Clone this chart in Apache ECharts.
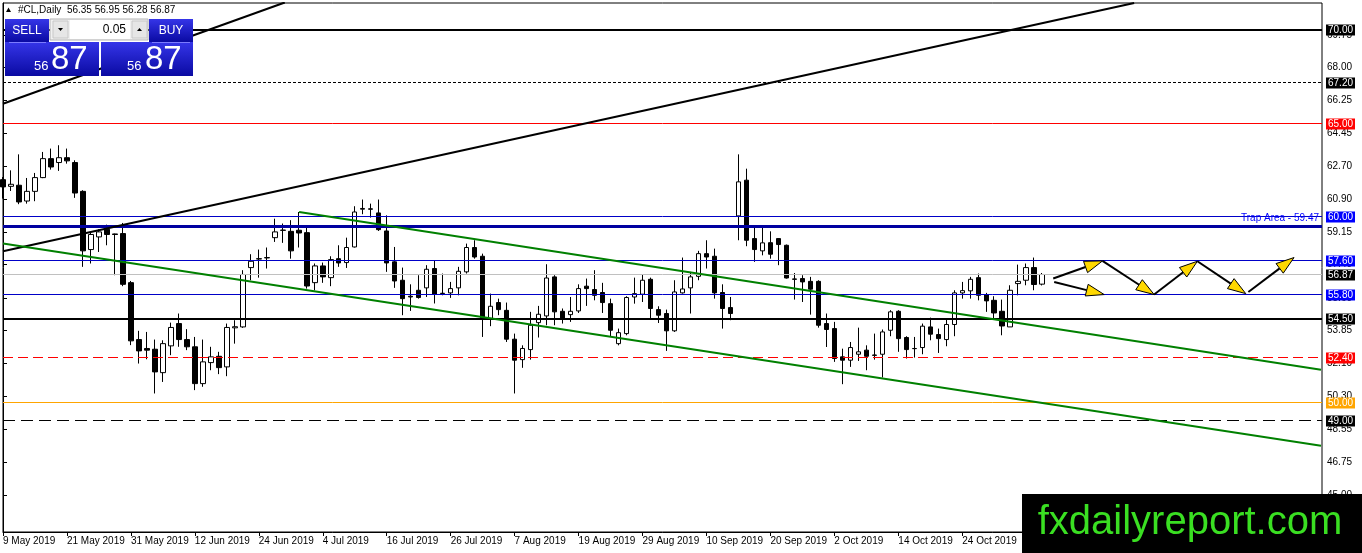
<!DOCTYPE html>
<html><head><meta charset="utf-8">
<script src="https://cdn.jsdelivr.net/npm/echarts@6.0.0/dist/echarts.min.js"></script>
<style>html,body{margin:0;padding:0;background:#fff;}#c{width:1362px;height:553px;}</style>
</head><body><div id="c"></div>
<script>
// ---- data ----
const categories = [
'9 May 2019','10 May 2019','13 May 2019','14 May 2019','15 May 2019','16 May 2019','17 May 2019','20 May 2019','21 May 2019','22 May 2019','23 May 2019','24 May 2019','27 May 2019','28 May 2019','29 May 2019','30 May 2019','31 May 2019',
'3 Jun 2019','4 Jun 2019','5 Jun 2019','6 Jun 2019','7 Jun 2019','10 Jun 2019','11 Jun 2019','12 Jun 2019','13 Jun 2019','14 Jun 2019','17 Jun 2019','18 Jun 2019','19 Jun 2019','20 Jun 2019','21 Jun 2019','24 Jun 2019','25 Jun 2019','26 Jun 2019','27 Jun 2019','28 Jun 2019',
'1 Jul 2019','2 Jul 2019','3 Jul 2019','4 Jul 2019','5 Jul 2019','8 Jul 2019','9 Jul 2019','10 Jul 2019','11 Jul 2019','12 Jul 2019','15 Jul 2019','16 Jul 2019','17 Jul 2019','18 Jul 2019','19 Jul 2019','22 Jul 2019','23 Jul 2019','24 Jul 2019','25 Jul 2019','26 Jul 2019','29 Jul 2019','30 Jul 2019','31 Jul 2019',
'1 Aug 2019','2 Aug 2019','5 Aug 2019','6 Aug 2019','7 Aug 2019','8 Aug 2019','9 Aug 2019','12 Aug 2019','13 Aug 2019','14 Aug 2019','15 Aug 2019','16 Aug 2019','19 Aug 2019','20 Aug 2019','21 Aug 2019','22 Aug 2019','23 Aug 2019','26 Aug 2019','27 Aug 2019','28 Aug 2019','29 Aug 2019','30 Aug 2019',
'2 Sep 2019','3 Sep 2019','4 Sep 2019','5 Sep 2019','6 Sep 2019','9 Sep 2019','10 Sep 2019','11 Sep 2019','12 Sep 2019','13 Sep 2019','16 Sep 2019','17 Sep 2019','18 Sep 2019','19 Sep 2019','20 Sep 2019','23 Sep 2019','24 Sep 2019','25 Sep 2019','26 Sep 2019','27 Sep 2019','30 Sep 2019',
'1 Oct 2019','2 Oct 2019','3 Oct 2019','4 Oct 2019','7 Oct 2019','8 Oct 2019','9 Oct 2019','10 Oct 2019','11 Oct 2019','14 Oct 2019','15 Oct 2019','16 Oct 2019','17 Oct 2019','18 Oct 2019','21 Oct 2019','22 Oct 2019','23 Oct 2019','24 Oct 2019','25 Oct 2019','28 Oct 2019','29 Oct 2019','30 Oct 2019','31 Oct 2019',
'1 Nov 2019','4 Nov 2019','5 Nov 2019','6 Nov 2019','7 Nov 2019'
];
const opens = [
61.97,61.61,61.67,60.82,61.34,62.08,63.10,62.89,63.15,62.89,
61.34,58.21,58.89,59.30,59.05,59.07,56.43,53.37,52.89,52.85,
51.59,53.03,54.23,53.37,52.98,51.00,52.13,52.47,51.90,54.00,
54.05,57.24,57.70,57.76,58.85,59.24,59.19,59.25,59.12,56.43,
57.33,56.70,57.72,57.51,58.35,60.38,60.40,60.18,59.21,57.55,
56.56,55.70,56.02,56.15,57.19,55.86,55.88,56.15,57.01,58.32,
57.85,54.50,55.36,54.94,53.39,52.29,52.83,54.28,54.64,56.74,
54.89,54.71,54.91,56.24,56.06,55.90,55.30,53.15,53.69,55.66,
55.81,56.61,54.98,54.77,53.84,55.88,56.15,56.77,57.99,57.85,
55.90,55.09,60.02,61.94,58.80,58.14,58.58,58.80,58.44,56.63,
56.65,56.50,56.50,54.23,53.96,52.44,52.26,52.58,52.80,52.54,
52.58,53.87,54.89,53.48,52.89,52.94,54.05,53.64,53.37,54.18,
55.88,55.99,56.70,55.79,55.48,54.89,54.05,56.38,56.56,57.24,56.35
];
const closes = [
61.58,61.72,60.77,61.34,62.08,63.10,62.65,63.15,62.98,61.25,
58.14,59.02,59.16,59.02,59.02,56.34,53.30,52.76,52.80,51.63,
53.15,54.02,53.37,52.98,51.00,52.17,52.44,51.86,54.02,54.06,
56.87,57.58,57.72,57.78,59.16,59.26,58.14,59.10,56.25,57.33,
56.74,57.67,57.49,58.32,60.23,60.42,60.38,59.28,57.49,56.52,
55.57,55.66,55.63,57.15,55.81,55.84,56.11,57.04,58.32,57.81,
54.50,55.16,54.98,53.39,52.26,52.89,54.14,54.73,56.68,54.86,
54.53,54.89,56.11,56.11,55.75,55.36,53.87,53.74,55.63,55.84,
56.56,55.04,54.68,53.84,55.93,56.09,56.74,57.99,57.81,55.88,
55.04,54.77,61.85,58.71,58.21,58.57,57.96,58.48,56.68,56.61,
56.47,56.08,54.14,53.91,52.35,52.26,52.94,52.71,52.47,52.52,
53.78,54.86,53.42,52.83,52.88,54.09,53.66,53.42,54.18,55.88,
56.00,56.61,55.75,55.45,54.80,54.10,56.02,56.50,57.24,56.33,56.87
];
const lows = [
60.95,61.36,60.65,60.68,60.81,62.05,62.51,62.44,62.83,60.99,
57.28,57.46,58.08,58.44,56.83,56.24,53.07,52.08,52.31,50.47,
51.09,52.53,52.98,52.80,50.65,50.83,51.72,51.51,51.40,53.15,
54.00,56.56,56.70,57.19,58.62,58.57,57.72,58.32,56.11,56.02,
56.42,56.24,57.28,57.22,58.32,60.11,59.93,59.21,57.01,56.15,
54.68,54.91,55.57,55.66,55.31,55.75,55.61,55.75,56.92,57.72,
53.51,54.09,54.68,53.24,50.47,51.85,52.29,53.48,54.14,54.14,
54.23,54.32,54.80,55.18,55.48,54.80,53.51,53.06,53.60,55.30,
55.39,54.50,54.26,52.76,53.78,55.84,54.77,56.56,57.19,55.57,
53.96,54.41,58.71,58.39,57.55,57.90,57.72,57.37,56.65,55.52,
55.39,54.71,54.01,52.97,52.17,50.97,51.90,52.22,51.72,52.29,
51.33,53.55,52.71,52.35,52.40,52.58,53.33,52.65,53.01,53.55,
55.57,55.57,55.48,54.86,54.44,53.60,54.05,55.75,56.29,56.02,56.28
];
const highs = [
62.11,62.47,63.33,62.06,62.33,63.46,63.64,63.82,63.64,63.01,
61.40,59.16,59.30,59.55,59.07,59.64,56.52,53.84,53.78,53.37,
53.33,54.28,54.77,53.93,53.51,53.37,52.98,52.71,54.23,54.41,
57.10,57.96,58.21,58.32,59.87,59.61,59.79,60.23,59.43,57.46,
57.51,57.85,58.44,58.85,60.54,60.90,60.68,60.90,60.05,58.35,
57.24,56.34,56.83,57.37,57.63,56.92,56.47,57.28,58.53,58.71,
57.99,55.84,55.57,55.36,53.69,53.06,54.86,55.18,57.42,56.83,
55.04,55.66,56.34,56.65,57.10,56.42,55.57,53.96,55.70,56.70,
56.86,56.70,55.16,54.98,56.56,57.78,57.01,58.14,58.71,58.26,
56.34,55.66,63.33,62.56,59.46,59.43,59.19,58.82,58.48,56.95,
56.83,56.74,56.56,54.77,54.32,52.88,53.24,54.01,53.06,53.69,
53.91,54.95,54.95,53.55,53.51,54.23,54.55,53.96,54.50,56.02,
56.47,56.74,56.92,55.88,55.70,55.52,56.29,57.40,57.46,57.78,56.95
];
const yTickLabels = [45.00, 46.75, 48.55, 50.30, 52.10, 53.85, 55.60, 57.40, 59.15, 60.90, 62.70, 64.45, 66.25, 68.00, 69.75];
const levelValues = [70.00, 67.20, 65.00, 60.00, 59.47, 57.60, 56.87, 55.80, 54.50, 52.40, 50.00, 49.00];
const trapLabel = 'Trap Area - 59.47';
// trend lines: [barIndex, price] endpoints
const blackRayShort = [[0, 66.05], [35.25, 71.50]];
const blackRayLong = [[0, 58.12], [141.5, 71.47]];
const greenUpper = [[37.04, 60.23], [164.875, 51.75]];
const greenLower = [[0, 58.54], [164.875, 47.66]];
// arrows: [fromIndex, fromPrice, toIndex, toPrice]
const arrowSegments = [
  [131.375, 56.65, 137.54, 57.60],
  [131.5, 56.47, 137.75, 55.79],
  [137.54, 57.60, 144.0, 55.79],
  [144.0, 55.79, 149.41, 57.58],
  [149.41, 57.58, 155.46, 55.84],
  [155.79, 55.93, 161.5, 57.78]
];
const headerText = '#CL,Daily  56.35 56.95 56.28 56.87';
const lotText = '0.05';
const bidBig = '87', bidSmall = '56', askBig = '87', askSmall = '56';
const logoText = 'fxdailyreport.com';

// ---- styles ----
const totalSlots = 166;
const FONT = 'Liberation Sans';
const levelColor = ['#000000','#000000','#ff0000','#0000c8','#0000a0','#0000c8','#c0c0c0','#0000c8','#000000','#ff0000','#ffa500','#000000'];
const levelBox   = ['#000000','#000000','#ff0000','#0000ff',null,     '#0000ff','#000000','#0000ff','#000000','#ff0000','#ffa500','#000000'];
const levelWidth = [2,1,1,1,3,1,1,1,2,1,1,1];
const levelDash  = [null,[3,2],null,null,null,null,null,null,null,[10,5],null,[12,6]];

const xData = categories.concat(new Array(totalSlots - categories.length).fill(''));
const candles = categories.map((_, i) => [opens[i], closes[i], lows[i], highs[i]]);
const levelRows = levelValues.map((v, i) => [i, v]);

function trend(data, color, width) {
  return {type: 'line', xAxisIndex: 1, yAxisIndex: 0, data: data, symbol: 'none', silent: true,
    lineStyle: {color: color, width: width}, z: 4, animation: false};
}

const blueGrad = {type: 'linear', x: 0, y: 0, x2: 0, y2: 1,
  colorStops: [{offset: 0, color: '#3535e8'}, {offset: 1, color: '#0a0aa2'}]};

const chart = echarts.init(document.getElementById('c'), null, {renderer: 'canvas'});
chart.setOption({
  animation: false,
  backgroundColor: '#fff',
  grid: {left: 3, right: 40, top: 3, bottom: 21, show: true, borderColor: '#000', borderWidth: 1, backgroundColor: '#fff'},
  xAxis: [
    {type: 'category', data: xData, boundaryGap: false,
      axisLine: {lineStyle: {color: '#000'}},
      axisTick: {interval: 7, length: 4, lineStyle: {color: '#000'}},
      axisLabel: {interval: 7, align: 'left', color: '#000', fontSize: 10, fontFamily: FONT, margin: 4},
      splitLine: {show: false}},
    {type: 'value', min: 0, max: totalSlots - 1, show: false}
  ],
  yAxis: {type: 'value', position: 'right', min: 43.02, max: 71.47, scale: true,
    splitLine: {show: false},
    axisLine: {show: true, lineStyle: {color: '#000'}},
    axisTick: {show: true, customValues: yTickLabels, length: 4, lineStyle: {color: '#000'}},
    axisLabel: {customValues: yTickLabels, formatter: v => Number(v).toFixed(2), color: '#000', fontSize: 10, fontFamily: FONT, margin: 5}
  },
  series: [
    {type: 'candlestick', data: candles, barWidth: 5, silent: true, z: 2,
      itemStyle: {color: '#ffffff', color0: '#000000', borderColor: '#000000', borderColor0: '#000000', borderWidth: 1}
    },
    {type: 'custom', xAxisIndex: 1, yAxisIndex: 0, data: levelRows, silent: true, z: 3, clip: false,
      encode: {x: 0, y: 1},
      renderItem: function (params, api) {
        const i = api.value(0), v = api.value(1);
        const cs = params.coordSys;
        const w = levelWidth[i];
        let y = api.coord([0, v])[1];
        y = (w % 2 === 1) ? Math.round(y - 0.5) + 0.5 : Math.round(y);
        const children = [{type: 'line', shape: {x1: cs.x, y1: y, x2: cs.x + cs.width, y2: y},
          style: {stroke: levelColor[i], lineWidth: w, lineDash: levelDash[i] || null}}];
        if (levelBox[i]) {
          children.push({type: 'text', x: cs.x + cs.width + 4, y: Math.round(y),
            style: {text: v.toFixed(2), fill: '#fff', backgroundColor: levelBox[i], padding: [1, 2, 0, 2],
              font: '10px "Liberation Sans"', verticalAlign: 'middle', textVerticalAlign: 'middle'}});
        } else {
          children.push({type: 'text', x: cs.x + cs.width - 3, y: y - 3,
            style: {text: trapLabel, fill: '#0000ff', font: '10px "Liberation Sans"',
              align: 'right', textAlign: 'right', verticalAlign: 'bottom', textVerticalAlign: 'bottom'}});
        }
        return {type: 'group', children: children};
      }
    },
    trend(blackRayShort, '#000', 2),
    trend(blackRayLong, '#000', 2),
    trend(greenUpper, '#008000', 2),
    trend(greenLower, '#008000', 2),
    {type: 'custom', xAxisIndex: 1, yAxisIndex: 0, data: arrowSegments, silent: true, z: 6,
      encode: {x: [0, 2], y: [1, 3]},
      renderItem: function (params, api) {
        const p1 = api.coord([api.value(0), api.value(1)]);
        const p2 = api.coord([api.value(2), api.value(3)]);
        const dx = p2[0] - p1[0], dy = p2[1] - p1[1];
        const len = Math.sqrt(dx * dx + dy * dy);
        const ux = dx / len, uy = dy / len;
        const hl = 18, hw = 6;
        const bx = p2[0] - ux * hl, by = p2[1] - uy * hl;
        return {type: 'group', children: [
          {type: 'line', shape: {x1: p1[0], y1: p1[1], x2: bx, y2: by}, style: {stroke: '#000', lineWidth: 2}},
          {type: 'polygon', shape: {points: [[p2[0], p2[1]], [bx - uy * hw, by + ux * hw], [bx + uy * hw, by - ux * hw]]},
            style: {fill: '#ffd800', stroke: '#000', lineWidth: 1}}
        ]};
      }
    }
  ],
  graphic: {elements: [
    {type: 'polygon', z: 100, shape: {points: [[6, 12], [11, 12], [8.5, 7.5]]}, style: {fill: '#000'}},
    {type: 'text', z: 100, x: 18, y: 10, style: {text: headerText, fill: '#000', font: '10px "Liberation Sans"', verticalAlign: 'middle', textVerticalAlign: 'middle'}},
    {type: 'rect', z: 100, shape: {x: 5, y: 19, width: 44, height: 23}, style: {fill: blueGrad}},
    {type: 'rect', z: 100, shape: {x: 5, y: 42, width: 94, height: 34}, style: {fill: blueGrad}},
    {type: 'rect', z: 100, shape: {x: 149, y: 19, width: 44, height: 23}, style: {fill: blueGrad}},
    {type: 'rect', z: 100, shape: {x: 101, y: 42, width: 92, height: 34}, style: {fill: blueGrad}},
    {type: 'line', z: 101, shape: {x1: 9, y1: 42.5, x2: 46, y2: 42.5}, style: {stroke: '#7c7cff', lineWidth: 1}},
    {type: 'line', z: 101, shape: {x1: 152, y1: 42.5, x2: 190, y2: 42.5}, style: {stroke: '#7c7cff', lineWidth: 1}},
    {type: 'rect', z: 100, shape: {x: 50, y: 19, width: 98, height: 21}, style: {fill: '#f0f0f0', stroke: '#b4b4b4', lineWidth: 1}},
    {type: 'rect', z: 101, shape: {x: 53, y: 21, width: 15, height: 17}, style: {fill: '#e6e6e6', stroke: '#c8c8c8', lineWidth: 1}},
    {type: 'polygon', z: 102, shape: {points: [[58, 28], [63, 28], [60.5, 31]]}, style: {fill: '#000'}},
    {type: 'rect', z: 101, shape: {x: 70, y: 20, width: 60, height: 19}, style: {fill: '#fff'}},
    {type: 'text', z: 102, x: 126, y: 29.5, style: {text: lotText, fill: '#000', font: '12px "Liberation Sans"', align: 'right', textAlign: 'right', verticalAlign: 'middle', textVerticalAlign: 'middle'}},
    {type: 'rect', z: 101, shape: {x: 132, y: 21, width: 15, height: 17}, style: {fill: '#e6e6e6', stroke: '#c8c8c8', lineWidth: 1}},
    {type: 'polygon', z: 102, shape: {points: [[137, 31], [142, 31], [139.5, 28]]}, style: {fill: '#000'}},
    {type: 'text', z: 102, x: 27, y: 31, style: {text: 'SELL', fill: '#fff', font: '12px "Liberation Sans"', align: 'center', textAlign: 'center', verticalAlign: 'middle', textVerticalAlign: 'middle'}},
    {type: 'text', z: 102, x: 171, y: 31, style: {text: 'BUY', fill: '#fff', font: '12px "Liberation Sans"', align: 'center', textAlign: 'center', verticalAlign: 'middle', textVerticalAlign: 'middle'}},
    {type: 'text', z: 102, x: 34, y: 66, style: {text: bidSmall, fill: '#fff', font: '13px "Liberation Sans"', verticalAlign: 'middle', textVerticalAlign: 'middle'}},
    {type: 'text', z: 102, x: 51, y: 60, style: {text: bidBig, fill: '#fff', font: '33px "Liberation Sans"', verticalAlign: 'middle', textVerticalAlign: 'middle'}},
    {type: 'text', z: 102, x: 127, y: 66, style: {text: askSmall, fill: '#fff', font: '13px "Liberation Sans"', verticalAlign: 'middle', textVerticalAlign: 'middle'}},
    {type: 'text', z: 102, x: 145, y: 60, style: {text: askBig, fill: '#fff', font: '33px "Liberation Sans"', verticalAlign: 'middle', textVerticalAlign: 'middle'}},
    {type: 'rect', z: 100, shape: {x: 1022, y: 494, width: 340, height: 59}, style: {fill: '#000'}},
    {type: 'text', z: 101, x: 1190, y: 523, style: {text: logoText, fill: '#3adf22', font: '40px "Liberation Sans"', align: 'center', textAlign: 'center', verticalAlign: 'middle', textVerticalAlign: 'middle'}}
  ]}
});
</script>
</body></html>
